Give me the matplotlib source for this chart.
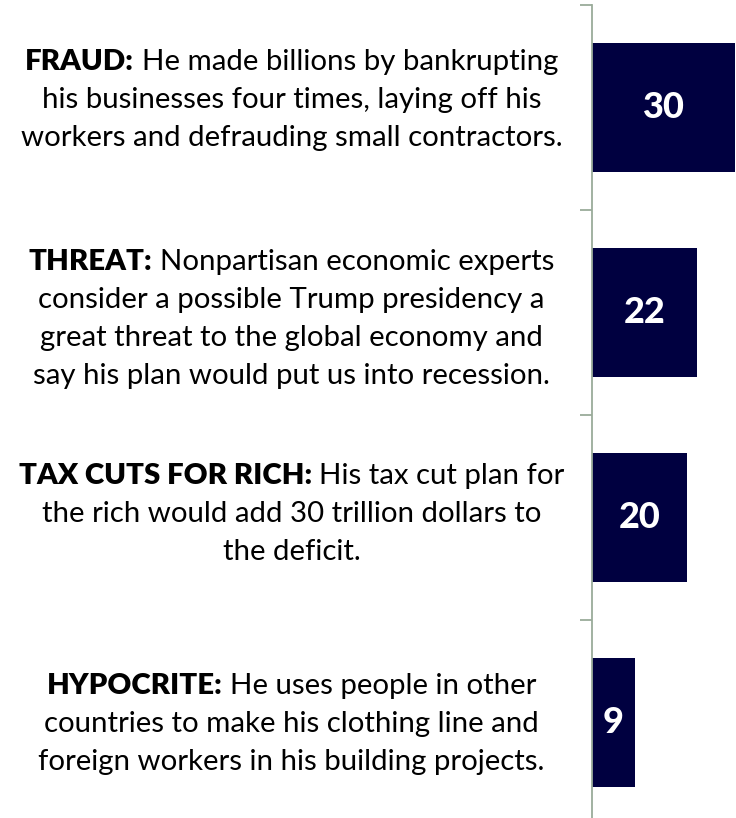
import matplotlib
matplotlib.use('Agg')
import matplotlib.pyplot as plt

# data, top to bottom
heads = ['FRAUD:', 'THREAT:', 'TAX CUTS FOR RICH:', 'HYPOCRITE:']
lines = [
    ['He made billions by bankrupting',
     'his businesses four times, laying off his',
     'workers and defrauding small contractors.'],
    ['Nonpartisan economic experts',
     'consider a possible Trump presidency a',
     'great threat to the global economy and',
     'say his plan would put us into recession.'],
    ['His tax cut plan for',
     'the rich would add 30 trillion dollars to',
     'the deficit.'],
    ['He uses people in other',
     'countries to make his clothing line and',
     'foreign workers in his building projects.'],
]
values = [30, 22, 20, 9]

NAVY = '#000040'
SPINE = '#9aab9a'
FONT = 'Lato'
FS = 21.2
LINE_PX = 38
XH = 0.506 * FS * 100 / 72  # x-height in pixels
# small vertical nudges of each text block vs. its bar (pixels, down)
nudge = [-6.5, 7, -2.5, 2.5]

fig = plt.figure(figsize=(7.36, 8.18), dpi=100)
ax = fig.add_axes([592 / 736, -7 / 818, 144 / 736, 820 / 818])

ypos = [len(values) - 1 - i for i in range(len(values))]
ax.barh(ypos, values, height=0.63, color=NAVY, zorder=2)
ax.set_xlim(0, 30.2)
ax.set_ylim(-0.5, len(values) - 0.5)

for y, v in zip(ypos, values):
    ax.text(v / 2, y, str(v), color='white', fontsize=26, fontweight='black',
            family=FONT, ha='center', va='center')

for s in ['top', 'right', 'bottom']:
    ax.spines[s].set_visible(False)
ax.spines['left'].set_color(SPINE)
ax.spines['left'].set_linewidth(1.3)
ax.set_xticks([])
ax.set_yticks([y + 0.5 for y in range(len(values))])
ax.set_yticklabels([])
ax.tick_params(axis='y', length=8.5, width=1.3, color=SPINE, direction='out')

fig.canvas.draw()
renderer = fig.canvas.get_renderer()


def text_width(s, weight):
    t = fig.text(0, 0, s, fontsize=FS, family=FONT, fontweight=weight)
    w = t.get_window_extent(renderer).width
    t.remove()
    return w


space = text_width('a b', 'normal') - text_width('ab', 'normal')
cx = 291.5 / 736
kw = dict(xycoords=('figure fraction', 'data'), textcoords='offset pixels',
          va='baseline', fontsize=FS, family=FONT)

for head, body, y, nd in zip(heads, lines, ypos, nudge):
    n = len(body)
    for i, line in enumerate(body):
        dy = -(nd + (i - (n - 1) / 2) * LINE_PX) - XH / 2
        if i == 0:
            wb = text_width(head, 'heavy')
            wr = text_width(line, 'normal')
            x0 = -(wb + space + wr) / 2
            ax.annotate(head, xy=(cx, y), xytext=(x0, dy), ha='left',
                        fontweight='heavy', **kw)
            ax.annotate(line, xy=(cx, y), xytext=(x0 + wb + space, dy),
                        ha='left', **kw)
        else:
            ax.annotate(line, xy=(cx, y), xytext=(0, dy), ha='center', **kw)

fig.savefig('out.png', dpi=100)
